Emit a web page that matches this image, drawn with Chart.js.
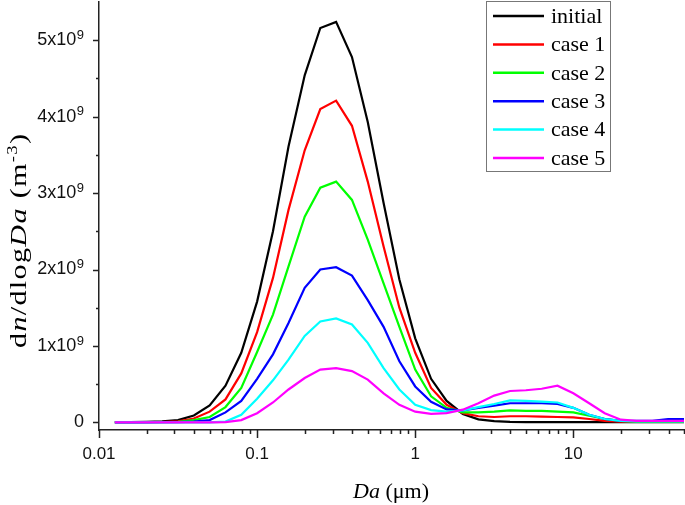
<!DOCTYPE html>
<html>
<head>
<meta charset="utf-8">
<script src="https://cdn.jsdelivr.net/npm/chart.js@4.4.1/dist/chart.umd.min.js"></script>
<style>
html,body{margin:0;padding:0;background:#fff;}
#wrap{width:685px;height:505px;position:relative;}
</style>
</head>
<body>
<div id="wrap"><canvas id="sizeChart"></canvas></div>
<script>
// ======================================================
// DATA  (dn/dlogDa in units of 10^9 m^-3)
// ======================================================

const diameters = [0.0126,0.0158,0.02,0.0251,0.0316,0.0398,0.0501,0.0631,0.0794,0.1,
    0.126,0.158,0.2,0.251,0.316,0.398,0.501,0.631,0.794,1.0,
    1.26,1.58,2.0,2.51,3.16,3.98,5.01,6.31,7.94,10,
    12.6,15.8,20,25.1,31.6,39.8,50.1];

const initialDist = [0.002,0.003,0.006,0.012,0.03,0.09,0.22,0.48,0.91,1.58,
    2.5,3.61,4.54,5.16,5.24,4.78,3.93,2.87,1.87,1.10,
    0.57,0.28,0.11,0.04,0.015,0.006,0.003,0.002,0.002,0.002,
    0.002,0.002,0.002,0.002,0.002,0.002,0.002];

const case1Dist = [0.001,0.002,0.003,0.005,0.012,0.05,0.14,0.30,0.64,1.18,
    1.89,2.78,3.56,4.10,4.21,3.88,3.15,2.30,1.50,0.91,
    0.45,0.23,0.12,0.08,0.07,0.08,0.08,0.075,0.07,0.065,
    0.044,0.02,0.01,0.008,0.008,0.008,0.008];

const case2Dist = [0,0.001,0.002,0.003,0.006,0.03,0.07,0.20,0.45,0.92,
    1.41,2.04,2.69,3.07,3.15,2.91,2.39,1.82,1.25,0.69,
    0.34,0.19,0.13,0.13,0.14,0.157,0.15,0.15,0.14,0.13,
    0.087,0.044,0.02,0.01,0.01,0.01,0.01];

const case3Dist = [0,0,0.001,0.002,0.003,0.01,0.03,0.13,0.28,0.57,
    0.89,1.30,1.76,2.00,2.03,1.92,1.60,1.25,0.80,0.47,
    0.27,0.17,0.157,0.19,0.22,0.25,0.25,0.25,0.24,0.19,
    0.10,0.044,0.02,0.02,0.02,0.044,0.044];

const case4Dist = [0,0,0,0,0,0,0.001,0.01,0.10,0.31,
    0.55,0.82,1.13,1.32,1.36,1.28,1.04,0.71,0.43,0.23,
    0.16,0.14,0.157,0.20,0.24,0.288,0.28,0.27,0.26,0.19,
    0.10,0.044,0.02,0.013,0.013,0.013,0.013];

const case5Dist = [0,0,0,0,0,0,0,0.002,0.03,0.12,
    0.26,0.43,0.58,0.69,0.71,0.67,0.56,0.38,0.23,0.14,
    0.11,0.12,0.166,0.25,0.35,0.41,0.42,0.44,0.48,0.38,
    0.25,0.12,0.035,0.02,0.02,0.02,0.02];

const seriesNames = ["initial","case 1","case 2","case 3","case 4","case 5"];
const seriesColors = ["#000000","#ff0000","#00ff00","#0000ff","#00ffff","#ff00ff"];
const seriesValues = [initialDist,case1Dist,case2Dist,case3Dist,case4Dist,case5Dist];

const xMajorTicks = [0.01,0.1,1,10];
const yMajorTicks = [0,1,2,3,4,5];
const yTickLabels = ["0","1x10","2x10","3x10","4x10","5x10"];
const yTickExp = "9";

const X_MIN = 0.01, X_MAX = 50.12;
const Y_MIN = -0.1, Y_MAX = 5.5;

const SERIF = "'Liberation Serif','Times New Roman',serif";
const SANS = "'Liberation Sans',Arial,sans-serif";

// ======================================================
// HELPERS
// ======================================================

function xMinorTicks(){
    const out = [];
    for(let d = X_MIN; d < X_MAX; d *= 10){
        for(let m = 2; m <= 9; m++){
            const v = m*d;
            if(v <= X_MAX*1.0001) out.push(v);
        }
    }
    return out;
}

function partFont(p, size){
    const fs = p.sup ? size*0.62 : size;
    return (p.italic ? "italic " : "") + fs + "px " + SERIF;
}

// draws rich text char by char; gap = extra spacing between chars
function drawRich(ctx, parts, size, gap){
    let x = 0;
    parts.forEach(p=>{
        ctx.font = partFont(p, size);
        for(const ch of p.t){
            ctx.fillText(ch, x, p.sup ? -size*0.38 : 0);
            x += ctx.measureText(ch).width + gap;
        }
    });
    return x;
}

function richWidth(ctx, parts, size){
    let w = 0, n = 0;
    parts.forEach(p=>{
        ctx.font = partFont(p, size);
        for(const ch of p.t){
            w += ctx.measureText(ch).width;
            n++;
        }
    });
    return {w, n};
}

// ======================================================
// PLUGIN: ticks, y labels, axis titles, legend
// ======================================================

const decorPlugin = {
    id:"decor",
    afterDraw(chart){
        const {ctx, chartArea:a, scales:{x, y}} = chart;
        ctx.save();

        // tick marks
        ctx.strokeStyle = "#222";
        ctx.lineWidth = 1.5;
        ctx.beginPath();
        xMajorTicks.forEach(v=>{
            const px = Math.round(x.getPixelForValue(v)) + 0.5;
            ctx.moveTo(px, a.bottom); ctx.lineTo(px, a.bottom + 8);
        });
        xMinorTicks().forEach(v=>{
            const px = Math.round(x.getPixelForValue(v)) + 0.5;
            ctx.moveTo(px, a.bottom); ctx.lineTo(px, a.bottom + 4);
        });
        yMajorTicks.forEach(v=>{
            const py = Math.round(y.getPixelForValue(v)) + 0.5;
            ctx.moveTo(a.left, py); ctx.lineTo(a.left - 6, py);
        });
        yMajorTicks.slice(0,-1).forEach(v=>{
            const py = Math.round(y.getPixelForValue(v + 0.5)) + 0.5;
            ctx.moveTo(a.left, py); ctx.lineTo(a.left - 3, py);
        });
        ctx.stroke();

        // y tick labels with superscript
        ctx.fillStyle = "#111";
        ctx.textBaseline = "middle";
        ctx.textAlign = "right";
        yMajorTicks.forEach((v,i)=>{
            const py = y.getPixelForValue(v);
            const right = a.left - 15;
            if(v === 0){
                ctx.font = "18px " + SANS;
                ctx.fillText(yTickLabels[i], right, py);
                return;
            }
            ctx.font = "13px " + SANS;
            const ew = ctx.measureText(yTickExp).width;
            ctx.fillText(yTickExp, right, py - 5);
            ctx.font = "18px " + SANS;
            ctx.fillText(yTickLabels[i], right - ew - 0.5, py);
        });

        // x title
        ctx.textAlign = "left";
        ctx.textBaseline = "alphabetic";
        ctx.fillStyle = "#000";
        const xTitle = [{t:"Da",italic:true},{t:" (\u03bcm)"}];
        const xm = richWidth(ctx, xTitle, 22);
        ctx.save();
        ctx.translate(391 - xm.w/2, 498);
        drawRich(ctx, xTitle, 22, 0);
        ctx.restore();

        // y title (rotated), stretched a little to the reference length
        const yTitle = [{t:"d"},{t:"n",italic:true},{t:"/dlog"},{t:"Da",italic:true},
            {t:" (m"},{t:"-3",sup:true},{t:")"}];
        const ym = richWidth(ctx, yTitle, 23);
        const gap = 1;
        const natural = ym.w + gap*(ym.n - 1);
        const stretch = 214 / natural;
        ctx.save();
        ctx.translate(26, 241);
        ctx.rotate(-Math.PI/2);
        ctx.scale(stretch, 1);
        ctx.translate(-natural/2, 0);
        drawRich(ctx, yTitle, 23, gap);
        ctx.restore();

        // legend
        ctx.strokeStyle = "#777";
        ctx.lineWidth = 1;
        ctx.strokeRect(486.5, 1.5, 124, 170);
        ctx.font = "22px " + SERIF;
        ctx.textBaseline = "middle";
        chart.data.datasets.forEach((ds,i)=>{
            const ry = 16 + i*28.4;
            ctx.strokeStyle = ds.borderColor;
            ctx.lineWidth = 2.5;
            ctx.beginPath();
            ctx.moveTo(493, ry); ctx.lineTo(544, ry);
            ctx.stroke();
            ctx.fillStyle = "#000";
            ctx.fillText(ds.label, 551, ry + 1);
        });

        ctx.restore();
    }
};

// ======================================================
// CHART
// ======================================================

const datasets = seriesNames.map((name,i)=>({
    label:name,
    data:diameters.map((d,k)=>({x:d, y:seriesValues[i][k]})),
    borderColor:seriesColors[i],
    backgroundColor:seriesColors[i],
    borderWidth:2.2,
    pointRadius:0,
    tension:0,
    fill:false,
    order:seriesNames.length - 1 - i
}));

new Chart(document.getElementById("sizeChart"),{
    type:"line",
    data:{datasets:datasets},
    plugins:[decorPlugin],
    options:{
        responsive:true,
        maintainAspectRatio:false,
        animation:false,
        events:[],
        layout:{padding:{top:2, right:1, left:0, bottom:0}},
        plugins:{
            legend:{display:false},
            tooltip:{enabled:false}
        },
        scales:{
            x:{
                type:"logarithmic",
                min:X_MIN,
                max:X_MAX,
                afterBuildTicks:scale=>{
                    scale.ticks = xMajorTicks.map(v=>({value:v}));
                },
                afterFit:scale=>{ scale.height = 75; },
                ticks:{
                    color:"#111",
                    padding:14,
                    maxRotation:0,
                    autoSkip:false,
                    font:{family:SANS, size:17},
                    callback:v=>String(v)
                },
                grid:{display:false, drawTicks:false},
                border:{display:true, color:"#222", width:1.5}
            },
            y:{
                type:"linear",
                min:Y_MIN,
                max:Y_MAX,
                afterFit:scale=>{ scale.width = 99; },
                ticks:{display:false},
                grid:{display:false, drawTicks:false},
                border:{display:true, color:"#222", width:1.5}
            }
        }
    }
});
</script>
</body>
</html>
